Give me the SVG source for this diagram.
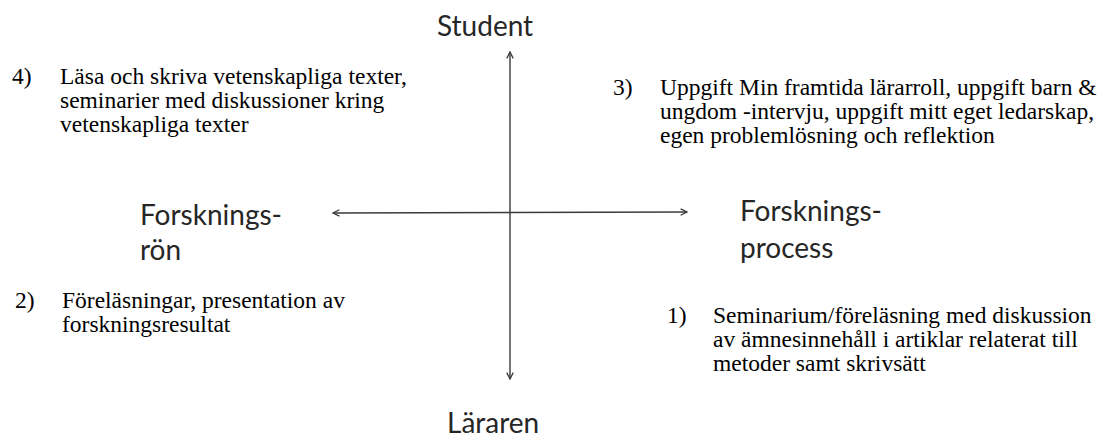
<svg xmlns="http://www.w3.org/2000/svg" width="1115" height="440" viewBox="0 0 1115 440">
<style>
.ax{font-family:Lato,"Open Sans",sans-serif;font-size:28px;fill:#262626}
.tx{font-family:"Liberation Serif","Times New Roman",serif;font-size:23.5px;fill:#000}
.ln{stroke:#3a3a3a;stroke-width:1.4;fill:none}
</style>
<defs>
<marker id="ah" viewBox="0 0 10 10" refX="9" refY="5" markerWidth="8" markerHeight="8" markerUnits="userSpaceOnUse" orient="auto-start-reverse">
<path d="M1,1 L9,5 L1,9" fill="none" stroke="#3a3a3a" stroke-width="1.6"/>
</marker>
</defs>
<rect width="1115" height="440" fill="#fff"/>
<g id="connectors">
<line class="ln" x1="510" y1="52" x2="510" y2="379" marker-start="url(#ah)" marker-end="url(#ah)"/>
<line class="ln" x1="333" y1="213" x2="687" y2="212" marker-start="url(#ah)" marker-end="url(#ah)"/>
</g>
<g id="student"><text class="ax" x="437" y="36">Student</text></g>
<g id="lararen"><text class="ax" x="447" y="433">Läraren</text></g>
<g id="forskningsron"><text class="ax" x="140" y="225">Forsknings-</text><text class="ax" x="140" y="260">rön</text></g>
<g id="forskningsprocess"><text class="ax" x="740" y="221">Forsknings-</text><text class="ax" x="740" y="258">process</text></g>
<g id="q4"><text class="tx" x="12" y="84">4)</text><text class="tx" x="60" y="84">Läsa och skriva vetenskapliga texter,</text><text class="tx" x="60" y="108">seminarier med diskussioner kring</text><text class="tx" x="60" y="132">vetenskapliga texter</text></g>
<g id="q3"><text class="tx" x="613" y="95">3)</text><text class="tx" x="660" y="95">Uppgift Min framtida lärarroll, uppgift barn &amp;</text><text class="tx" x="660" y="119">ungdom -intervju, uppgift mitt eget ledarskap,</text><text class="tx" x="660" y="143">egen problemlösning och reflektion</text></g>
<g id="q2"><text class="tx" x="15" y="308">2)</text><text class="tx" x="62" y="308">Föreläsningar, presentation av</text><text class="tx" x="62" y="332">forskningsresultat</text></g>
<g id="q1"><text class="tx" x="667" y="323">1)</text><text class="tx" x="713" y="323">Seminarium/föreläsning med diskussion</text><text class="tx" x="713" y="347">av ämnesinnehåll i artiklar relaterat till</text><text class="tx" x="713" y="371">metoder samt skrivsätt</text></g>
</svg>
